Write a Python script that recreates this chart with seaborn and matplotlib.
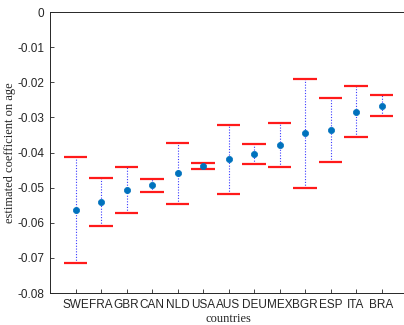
import numpy as np
import pandas as pd
import matplotlib
matplotlib.use("Agg")
import matplotlib.pyplot as plt
import seaborn as sns

countries = ["SWE", "FRA", "GBR", "CAN", "NLD", "USA", "AUS", "DEU", "MEX", "BGR", "ESP", "ITA", "BRA"]
estimate = [-0.0564, -0.0541, -0.0507, -0.0493, -0.0458, -0.0438, -0.0418, -0.0404, -0.0379, -0.0344, -0.0336, -0.0285, -0.0268]
upper = [-0.0413, -0.0473, -0.0441, -0.0475, -0.0373, -0.0430, -0.0322, -0.0376, -0.0316, -0.0191, -0.0245, -0.0211, -0.0236]
lower = [-0.0715, -0.0609, -0.0572, -0.0512, -0.0547, -0.0447, -0.0518, -0.0433, -0.0441, -0.0501, -0.0427, -0.0356, -0.0296]

df = pd.DataFrame({"country": countries, "est": estimate, "hi": upper, "lo": lower})
df["pos"] = np.arange(len(df)) + 1

sns.set_style("white")
plt.rcParams["font.family"] = ["Liberation Sans", "DejaVu Sans"]

fig = plt.figure(figsize=(4.04, 3.25), dpi=100)
ax = fig.add_axes([50 / 404, 32 / 325, 357 / 404, 281 / 325])

# whiskers, caps, points
ax.vlines(df["pos"], df["lo"], df["hi"], colors="#3a3aff", linestyles=(0, (1, 1.5)), linewidth=0.8, zorder=1)
ax.hlines(df["hi"], df["pos"] - 0.47, df["pos"] + 0.47, colors="#ff1a1a", linewidth=1.6, zorder=2)
ax.hlines(df["lo"], df["pos"] - 0.47, df["pos"] + 0.47, colors="#ff1a1a", linewidth=1.6, zorder=2)
sns.scatterplot(data=df, x="pos", y="est", ax=ax, color="#0072BD", s=20, edgecolor="#0072BD", linewidth=0.5, zorder=3)

ax.set_xlim(0, 14)
ax.set_ylim(-0.08, 0)
ax.set_xticks(df["pos"])
ax.set_xticklabels(df["country"])
ax.set_yticks(np.arange(-0.08, 0.001, 0.01))
ax.set_yticklabels(["-0.08", "-0.07", "-0.06", "-0.05", "-0.04", "-0.03", "-0.02", "-0.01", "0"])
ax.tick_params(bottom=True, left=True, direction="in", length=3, width=0.6, colors="#262626", labelsize=8.5, pad=4)
for lab in ax.get_xticklabels() + ax.get_yticklabels():
    lab.set_color("#262626")

for side in ["top", "right", "left", "bottom"]:
    ax.spines[side].set_color("#262626")
    ax.spines[side].set_linewidth(0.7)

ax.set_xlabel("countries", family="Liberation Serif", fontsize=9, color="#262626", labelpad=2)
ax.set_ylabel("estimated coefficient on age", family="Liberation Serif", fontsize=9, color="#262626", labelpad=1)

fig.savefig("out.png", dpi=100)
